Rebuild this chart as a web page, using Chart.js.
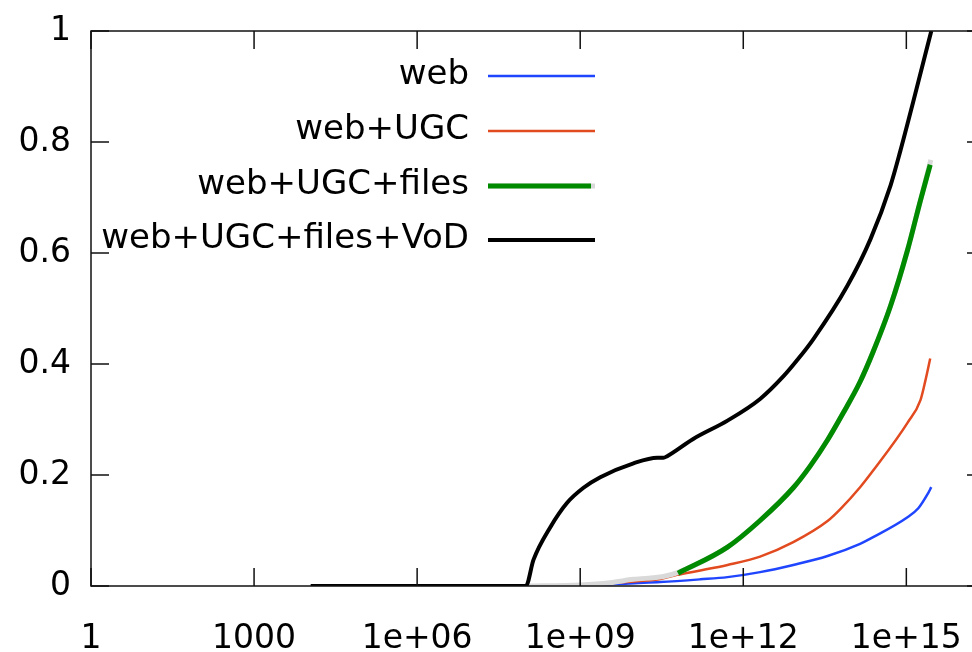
<!DOCTYPE html>
<html>
<head>
<meta charset="utf-8">
<script src="https://cdn.jsdelivr.net/npm/chart.js@4.4.1/dist/chart.umd.min.js"></script>
<style>
    html, body { margin: 0; padding: 0; background: #fff; overflow: hidden; }
    #wrap { width: 1000px; height: 652px; position: relative; }
</style>
</head>
<body>
<div id="wrap"><canvas id="chart"></canvas></div>
<script>
// Values (x on a log axis).
const webX = [1e8, 1e9, 3.55e9, 1e10, 2.95e10, 1.62e11, 5.13e11, 2.04e12, 8.32e12, 3.55e13, 1.41e14, 2.45e14, 1.05e15, 1.66e15, 2.51e15, 2.88e15];
const webY = [0, 0.001, 0.003, 0.005, 0.007, 0.012, 0.016, 0.025, 0.038, 0.054, 0.076, 0.088, 0.124, 0.14, 0.167, 0.178];

const ugcX = [1e8, 1e9, 1e10, 3.16e10, 6.03e10, 1.62e11, 5.13e11, 2.04e12, 8.32e12, 3.55e13, 6.17e13, 1.41e14, 2.45e14, 1.05e15, 1.82e15, 2.24e15, 2.75e15];
const ugcY = [0, 0.002, 0.008, 0.013, 0.02, 0.028, 0.038, 0.053, 0.079, 0.117, 0.139, 0.178, 0.208, 0.294, 0.335, 0.37, 0.41];

const filesX = [6.31e10, 5.13e11, 2.04e12, 8.32e12, 1.70e13, 3.55e13, 6.92e13, 1.41e14, 2.45e14, 5.13e14, 1.05e15, 1.82e15, 2.75e15];
const filesY = [0.023, 0.070, 0.118, 0.177, 0.216, 0.263, 0.312, 0.368, 0.422, 0.505, 0.605, 0.695, 0.759];

// light grey trace under the green one
const shadowX = [1e8, 1e9, 3.55e9, 9.55e9, 3.39e10, 6.17e10, 5.13e11, 2.04e12, 8.32e12, 1.70e13, 3.55e13, 6.92e13, 1.41e14, 2.45e14, 5.13e14, 1.05e15, 1.82e15, 2.82e15];
const shadowY = [0, 0.002, 0.006, 0.012, 0.017, 0.024, 0.070, 0.118, 0.177, 0.216, 0.263, 0.312, 0.368, 0.422, 0.505, 0.605, 0.695, 0.768];

const vodX = [1.1e4, 1e8, 1.38e8, 2.82e8, 5.75e8, 1.15e9, 2.34e9, 9.55e9, 2.63e10, 3.39e10, 3.98e10, 1.2e11, 5.13e11, 2.04e12, 5.5e12, 1e13, 1.95e13, 8.13e13, 2.19e14, 5.13e14, 7.76e14, 1.35e15, 2.88e15];
const vodY = [0, 0, 0.047, 0.106, 0.15, 0.177, 0.196, 0.221, 0.231, 0.231, 0.234, 0.265, 0.298, 0.337, 0.378, 0.408, 0.445, 0.54, 0.625, 0.722, 0.784, 0.874, 1.0];

const seriesNames = ['web', 'web+UGC', 'web+UGC+files', 'web+UGC+files+VoD'];

const xTickValues = [1, 1000, 1e6, 1e9, 1e12, 1e15];
const xTickLabels = ['1', '1000', '1e+06', '1e+09', '1e+12', '1e+15'];
const yTickValues = [0, 0.2, 0.4, 0.6, 0.8, 1];
const yTickLabels = ['0', '0.2', '0.4', '0.6', '0.8', '1'];

const FONT = 'DejaVu Sans';
const BLUE = '#1f45ff';
const RED = '#e24a1f';
const GREEN = '#008a00';
const GREY = '#d9d9d9';

const pts = (xs, ys) => xs.map((x, i) => ({ x, y: ys[i] }));

// Frame with inward ticks on all four sides, like the original plot.
const framePlugin = {
    id: 'frame',
    afterDraw(chart) {
        const { ctx, chartArea: a, scales } = chart;
        const len = 18;
        ctx.save();
        ctx.strokeStyle = '#111';
        ctx.lineWidth = 1.5;
        ctx.strokeRect(a.left, a.top, a.right - a.left, a.bottom - a.top);
        ctx.beginPath();
        xTickValues.forEach((v) => {
            const px = scales.x.getPixelForValue(v);
            ctx.moveTo(px, a.bottom); ctx.lineTo(px, a.bottom - len);
            ctx.moveTo(px, a.top); ctx.lineTo(px, a.top + len);
        });
        yTickValues.forEach((v) => {
            const py = scales.y.getPixelForValue(v);
            ctx.moveTo(a.left, py); ctx.lineTo(a.left + len, py);
            ctx.moveTo(a.right, py); ctx.lineTo(a.right - len, py);
        });
        ctx.stroke();
        ctx.restore();
    },
};

// gnuplot-style key: right-aligned text, line sample to the right
const keyPlugin = {
    id: 'key',
    afterDraw(chart) {
        const { ctx } = chart;
        const textRight = 469;
        const x0 = 488;
        const x1 = 595;
        const rows = [75, 130, 185, 239];
        const samples = [
            [{ c: BLUE, w: 2.5, end: x1 }],
            [{ c: RED, w: 2.5, end: x1 }],
            [{ c: GREY, w: 5, end: x1 }, { c: GREEN, w: 5, end: x1 - 4 }],
            [{ c: '#000', w: 4, end: x1 }],
        ];
        ctx.save();
        ctx.font = `34px "${FONT}"`;
        ctx.fillStyle = '#000';
        ctx.textAlign = 'right';
        ctx.textBaseline = 'middle';
        seriesNames.forEach((name, i) => {
            ctx.fillText(name, textRight, rows[i]);
            samples[i].forEach((s) => {
                ctx.strokeStyle = s.c;
                ctx.lineWidth = s.w;
                ctx.beginPath();
                ctx.moveTo(x0, rows[i] + 1);
                ctx.lineTo(s.end, rows[i] + 1);
                ctx.stroke();
            });
        });
        ctx.restore();
    },
};

const line = (label, data, color, width, order) => ({
    label,
    data,
    borderColor: color,
    backgroundColor: color,
    borderWidth: width,
    pointRadius: 0,
    cubicInterpolationMode: 'monotone',
    fill: false,
    order,
});

new Chart(document.getElementById('chart'), {
    type: 'line',
    data: {
        datasets: [
            line(seriesNames[0], pts(webX, webY), BLUE, 2.5, 4),
            line(seriesNames[1], pts(ugcX, ugcY), RED, 2.5, 3),
            line('', pts(shadowX, shadowY), GREY, 5, 2),
            line(seriesNames[2], pts(filesX, filesY), GREEN, 5, 1),
            line(seriesNames[3], pts(vodX, vodY), '#000', 4, 0),
        ],
    },
    options: {
        responsive: true,
        maintainAspectRatio: false,
        animation: false,
        devicePixelRatio: 1,
        layout: { padding: { top: 31, right: 15, left: 0, bottom: 0 } },
        plugins: {
            legend: { display: false },
            tooltip: { enabled: false },
        },
        scales: {
            x: {
                type: 'logarithmic',
                min: 1,
                max: 2.8e16,
                grid: { display: false },
                border: { display: false },
                afterBuildTicks: (scale) => {
                    scale.ticks = xTickValues.map(v => ({ value: v }));
                },
                afterFit: (scale) => {
                    scale.height = 66;
                    scale.paddingLeft = 0;
                    scale.paddingRight = 0;
                },
                ticks: {
                    autoSkip: false,
                    maxRotation: 0,
                    padding: 26,
                    color: '#000',
                    font: { family: FONT, size: 33 },
                    callback: (v) => {
                        const i = xTickValues.indexOf(v);
                        return i >= 0 ? xTickLabels[i] : '';
                    },
                },
            },
            y: {
                type: 'linear',
                min: 0,
                max: 1,
                grid: { display: false },
                border: { display: false },
                afterBuildTicks: (scale) => {
                    scale.ticks = yTickValues.map(v => ({ value: v }));
                },
                afterFit: (scale) => {
                    scale.width = 91;
                    scale.paddingTop = 0;
                    scale.paddingBottom = 0;
                },
                ticks: {
                    padding: 12,
                    color: '#000',
                    font: { family: FONT, size: 33 },
                    callback: (v) => {
                        const i = yTickValues.indexOf(v);
                        return i >= 0 ? yTickLabels[i] : '';
                    },
                },
            },
        },
    },
    plugins: [framePlugin, keyPlugin],
});
</script>
</body>
</html>
